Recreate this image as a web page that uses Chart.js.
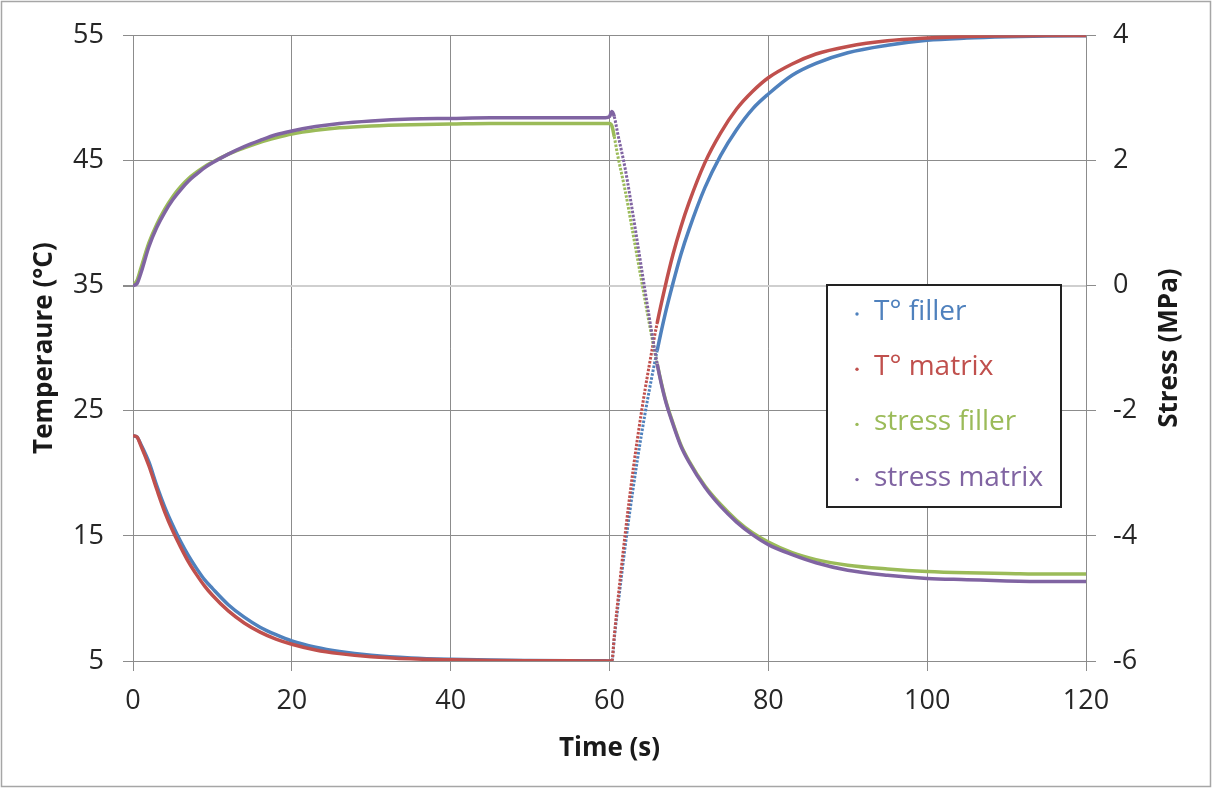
<!DOCTYPE html>
<html>
<head>
<meta charset="utf-8">
<title>Temperature and stress</title>
<script src="https://cdn.jsdelivr.net/npm/chart.js@4"></script>
<style>
  html, body { margin: 0; padding: 0; background: #fff; }
  #wrap { width: 1213px; height: 790px; }
</style>
</head>
<body>
<div id="wrap"><canvas id="chart" width="1213" height="790"></canvas></div>
<script>
// Time steps (s)
const times = [0, 0.5, 1, 2, 3, 4, 5, 6, 7, 8, 9, 10, 12, 14, 16, 18, 20, 23, 26, 30, 35, 40, 45, 50, 55, 59.5,
  60, 60.3, 60.6, 61, 62, 63, 64, 65, 66, 67, 68, 69, 70, 72, 74, 76, 78, 80, 83, 86, 90, 95, 100, 105, 110, 115, 120];

// Temperatures (°C), left axis
const tFiller = [23, 22.9, 22.3, 20.9, 19.0, 17.3, 15.85, 14.55, 13.4, 12.4, 11.5, 10.8, 9.5, 8.5, 7.7, 7.1, 6.6, 6.1, 5.76, 5.46, 5.24, 5.13, 5.07, 5.04, 5.02, 5.01,
  5.0, 5.0, 6.8, 9.05, 14.3, 18.9, 23.0, 26.6, 29.8, 32.7, 35.2, 37.5, 39.45, 42.8, 45.4, 47.45, 49.1, 50.3, 51.8, 52.75, 53.6, 54.2, 54.6, 54.77, 54.87, 54.93, 54.96];
const tMatrix = [23, 22.9, 22.2, 20.6, 18.7, 16.9, 15.4, 14.1, 12.9, 11.9, 11.0, 10.25, 9.0, 8.04, 7.31, 6.75, 6.34, 5.88, 5.59, 5.34, 5.17, 5.09, 5.04, 5.02, 5.01, 5.0,
  5.0, 5.0, 7.0, 9.5, 15.3, 20.4, 24.8, 28.6, 32.0, 34.9, 37.5, 39.7, 41.6, 44.8, 47.2, 49.1, 50.5, 51.6, 52.7, 53.5, 54.1, 54.55, 54.77, 54.9, 54.94, 54.97, 54.98];

// Stresses (MPa), right axis
const sFiller = [0, 0.08, 0.28, 0.68, 0.98, 1.22, 1.42, 1.58, 1.71, 1.81, 1.9, 1.97, 2.1, 2.2, 2.29, 2.36, 2.42, 2.48, 2.52, 2.55, 2.57, 2.58, 2.59, 2.59, 2.59, 2.59,
  2.59, 2.55, 2.38, 2.1, 1.5, 0.8, 0.1, -0.6, -1.25, -1.8, -2.2, -2.55, -2.8, -3.2, -3.5, -3.75, -3.95, -4.1, -4.27, -4.38, -4.47, -4.53, -4.57, -4.59, -4.6, -4.61, -4.61];
const sMatrix = [0, 0.03, 0.2, 0.62, 0.93, 1.17, 1.37, 1.53, 1.67, 1.78, 1.88, 1.96, 2.1, 2.22, 2.32, 2.41, 2.47, 2.54, 2.59, 2.63, 2.66, 2.67, 2.68, 2.68, 2.68, 2.68,
  2.7, 2.78, 2.7, 2.45, 1.85, 1.1, 0.3, -0.5, -1.25, -1.82, -2.22, -2.57, -2.82, -3.22, -3.53, -3.78, -3.98, -4.14, -4.3, -4.43, -4.55, -4.63, -4.68, -4.7, -4.72, -4.73, -4.73];

const labels = ["T° filler", "T° matrix", "stress filler", "stress matrix"];
const colors = ["#4f81bd", "#c0504d", "#9bbb59", "#8064a2"];

const FONT = '"Open Sans", "DejaVu Sans", sans-serif';
const GRID = "#8c8c8c";

function pts(vals){
  return times.map((t, i) => ({ x: t, y: vals[i] }));
}

// steep parts look dotted in the original
function steep(ctx){
  const dx = Math.abs(ctx.p1.x - ctx.p0.x);
  const dy = Math.abs(ctx.p1.y - ctx.p0.y);
  return dy > 4.7 * dx;
}

function series(i, vals, axis){
  return {
    label: labels[i],
    data: pts(vals),
    yAxisID: axis,
    borderColor: colors[i],
    backgroundColor: colors[i],
    borderWidth: 3.5,
    pointRadius: 0,
    cubicInterpolationMode: "monotone",
    order: 4 - i,
    segment: {
      borderDash: ctx => steep(ctx) ? [2.5, 1.5] : undefined,
      borderWidth: ctx => steep(ctx) ? 3 : undefined
    }
  };
}

// white page + grey frame
const frame = {
  id: "frame",
  beforeDraw(chart){
    const c = chart.ctx;
    c.save();
    c.fillStyle = "#fff";
    c.fillRect(0, 0, chart.width, chart.height);
    c.strokeStyle = "#a6a6a6";
    c.lineWidth = 1.5;
    c.strokeRect(1.5, 1.5, chart.width - 4, chart.height - 5);
    c.restore();
  }
};

// right axis title reads bottom-to-top like the left one
const rightTitle = {
  id: "rightTitle",
  afterDraw(chart){
    const c = chart.ctx;
    const a = chart.chartArea;
    c.save();
    c.translate(1170, (a.top + a.bottom) / 2);
    c.rotate(-Math.PI / 2);
    c.font = "bold 26px " + FONT;
    c.fillStyle = "#1a1a1a";
    c.textAlign = "center";
    c.textBaseline = "middle";
    c.fillText("Stress (MPa)", 0, 0);
    c.restore();
  }
};

// legend box inside the plot
const insideLegend = {
  id: "insideLegend",
  afterDraw(chart){
    const c = chart.ctx;
    c.save();
    c.fillStyle = "#fff";
    c.fillRect(827, 285, 234, 222);
    c.strokeStyle = "#222";
    c.lineWidth = 2;
    c.strokeRect(827, 285, 234, 222);
    c.font = "28px " + FONT;
    c.textBaseline = "middle";
    chart.data.datasets.forEach((ds, i) => {
      const y = 312 + i * 55.2;
      c.fillStyle = ds.borderColor;
      c.beginPath();
      c.arc(857, y + 2, 1.7, 0, Math.PI * 2);
      c.fill();
      c.fillText(ds.label, 874, y);
    });
    c.restore();
  }
};

new Chart(document.getElementById("chart"), {
  type: "line",
  data: {
    datasets: [
      series(0, tFiller, "y"),
      series(1, tMatrix, "y"),
      series(2, sFiller, "y2"),
      series(3, sMatrix, "y2")
    ]
  },
  options: {
    responsive: false,
    animation: false,
    devicePixelRatio: 1,
    layout: { padding: { top: 31, left: 0, right: 0, bottom: 0 } },
    plugins: {
      legend: { display: false },
      tooltip: { enabled: false }
    },
    scales: {
      x: {
        type: "linear",
        min: 0, max: 120,
        ticks: { stepSize: 20, padding: 14, color: "#262626", font: { family: FONT, size: 27 } },
        grid: { color: GRID, tickLength: 10, tickColor: GRID },
        border: { color: GRID },
        title: { display: true, text: "Time (s)", color: "#1a1a1a", font: { family: FONT, size: 26, weight: "bold" }, padding: { top: 0, bottom: 26 } },
        afterFit: s => { s.height = 129; }
      },
      y: {
        position: "left",
        min: 5, max: 55,
        ticks: { stepSize: 10, padding: 19, color: "#262626", font: { family: FONT, size: 27 } },
        grid: {
          color: ctx => ctx.tick && ctx.tick.value === 35 ? "#cfcfcf" : GRID,
          lineWidth: ctx => ctx.tick && ctx.tick.value === 35 ? 2 : 1,
          tickLength: 10, tickColor: GRID
        },
        border: { color: GRID },
        title: { display: true, text: "Temperaure (°C)", color: "#1a1a1a", font: { family: FONT, size: 26, weight: "bold" }, padding: { top: 29, bottom: 0 } },
        afterFit: s => { s.width = 133; }
      },
      y2: {
        position: "right",
        min: -6, max: 4,
        ticks: { stepSize: 2, padding: 17, color: "#262626", font: { family: FONT, size: 27 } },
        grid: { drawOnChartArea: false, tickLength: 10, tickColor: GRID, color: GRID },
        border: { color: GRID },
        afterFit: s => { s.width = 127; }
      }
    }
  },
  plugins: [frame, rightTitle, insideLegend]
});
</script>
</body>
</html>
